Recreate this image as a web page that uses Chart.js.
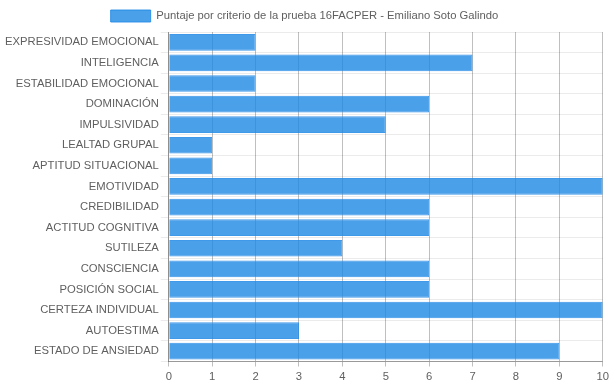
<!DOCTYPE html>
<html><head><meta charset="utf-8">
<script src="https://cdn.jsdelivr.net/npm/chart.js@4/dist/chart.umd.min.js"></script>
<style>html,body{margin:0;padding:0;background:#fff}#w{width:613px;height:388px}</style>
</head><body><div id="w"><canvas id="c"></canvas></div>
<script>
const categories = ["EXPRESIVIDAD EMOCIONAL","INTELIGENCIA","ESTABILIDAD EMOCIONAL","DOMINACIÓN","IMPULSIVIDAD","LEALTAD GRUPAL","APTITUD SITUACIONAL","EMOTIVIDAD","CREDIBILIDAD","ACTITUD COGNITIVA","SUTILEZA","CONSCIENCIA","POSICIÓN SOCIAL","CERTEZA INDIVIDUAL","AUTOESTIMA","ESTADO DE ANSIEDAD"];
const scores = [2,7,2,6,5,1,1,10,6,6,4,6,6,10,3,9];
const seriesLabel = "Puntaje por criterio de la prueba 16FACPER - Emiliano Soto Galindo";
Chart.defaults.font.family = "'Liberation Sans', Arial, Helvetica, sans-serif";
Chart.defaults.font.size = 11.25;
Chart.defaults.color = '#5f5f5f';
new Chart(document.getElementById('c'), {
  type: 'bar',
  data: { labels: categories, datasets: [{
    label: seriesLabel, data: scores,
    backgroundColor: 'rgba(30,136,229,0.8)',
    borderColor: 'rgba(30,136,229,0.85)',
    borderWidth: 1,
    barPercentage: 0.9, categoryPercentage: 0.9
  }]},
  options: {
    indexAxis: 'y', responsive: true, maintainAspectRatio: false, animation: false,
    layout: { padding: { left: 3, right: 7, bottom: 0, top: 0 } },
    plugins: { legend: { labels: { boxWidth: 40, boxHeight: 12 } }, tooltip: { enabled: false } },
    scales: {
      x: { min: 0, max: 10, ticks: { stepSize: 1, padding: 4 },
           grid: { color: 'rgba(0,0,0,0.25)', tickLength: 5 }, border: { color: 'rgba(0,0,0,0.35)' } },
      y: { ticks: { padding: 2 }, grid: { color: 'rgba(0,0,0,0.08)' }, border: { color: 'rgba(0,0,0,0.25)' } }
    }
  }
});
</script></body></html>
